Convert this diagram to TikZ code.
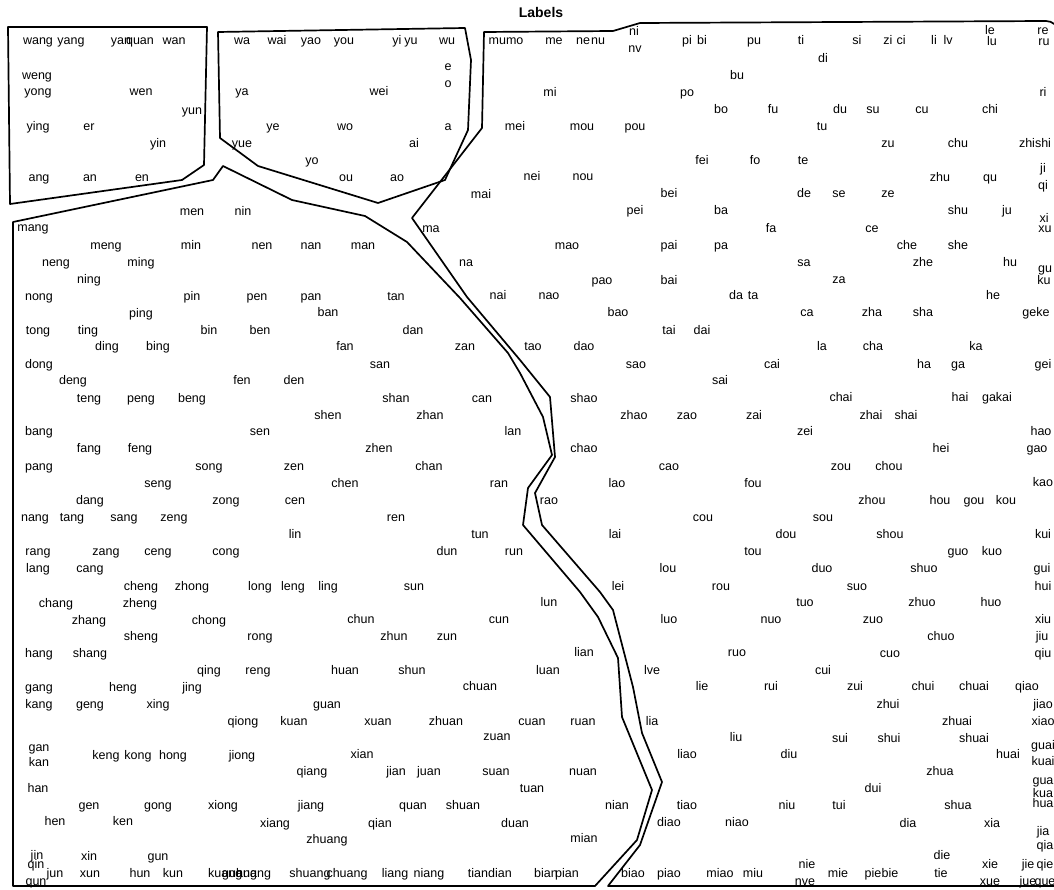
\documentclass[tikz,border=0pt]{standalone}
\usepackage{fontspec}
\setmainfont{Liberation Sans}
\newcounter{lbc}
\newcommand\pl[3]{\stepcounter{lbc}\node[lb] (lb\arabic{lbc}) at (#1,#2) {#3};}
\newcommand\plw[3]{\stepcounter{lbc}\node[lb,anchor=mid west] (lb\arabic{lbc}) at (#1,#2) {#3};}
\begin{document}
\begin{tikzpicture}[x=1pt,y=-1pt,
  lb/.style={font=\fontsize{12.5}{13}\selectfont, inner sep=0pt, anchor=mid, text=black},
  region/.style={draw=black, line width=1.7pt, line join=round}]
\useasboundingbox (0,0) rectangle (1054,890);
\node[font=\bfseries\fontsize{14}{15}\selectfont, inner sep=0pt] (title) at (541,13) {Labels};
% regions
\draw[region] (8,27) -- (207,27) -- (204,165) -- (182,180) -- (10,204) -- cycle;
\draw[region] (218,32) -- (465,28) -- (471,60) -- (468,130) -- (445,180) -- (378,203) -- (258,166) -- (220,138) -- cycle;
\draw[region] (13,222) -- (213,180) -- (223,166) -- (292,200) -- (365,216) -- (407,242) -- (460,298) -- (508,353) -- (520,373) -- (543,417) -- (552,455) -- (528,488) -- (523,525) -- (580,592) -- (598,617) -- (618,658) -- (622,717) -- (652,790) -- (637,840) -- (595,886) -- (13,886) -- cycle;
\draw[region] (484,32) -- (613,31) -- (640,23) -- (1046,21) to[out=0,in=90] (1058,32) -- (1058,886) -- (608,886) -- (640,845) -- (662,782) -- (642,733) -- (633,687) -- (613,610) -- (600,592) -- (542,525) -- (535,493) -- (555,457) -- (550,397) -- (520,360) -- (467,297) -- (412,218) -- (482,128) -- cycle;
% box 1
\pl{38}{42}{wang}\pl{71}{42}{yang}\pl{121}{42}{yan}\pl{140}{42}{quan}\pl{174}{42}{wan}
\pl{37}{77}{weng}\pl{38}{93}{yong}\pl{141}{93}{wen}\pl{192}{112}{yun}
\pl{38}{128}{ying}\pl{89}{128}{er}\pl{158}{145}{yin}
\pl{39}{179}{ang}\pl{90}{179}{an}\pl{142}{179}{en}
% box 2
\pl{242}{42}{wa}\pl{277}{42}{wai}\pl{311}{42}{yao}\pl{344}{42}{you}\pl{397}{42}{yi}\pl{411}{42}{yu}\pl{447}{42}{wu}
\pl{448}{68}{e}\pl{448}{85}{o}\pl{242}{93}{ya}\pl{379}{93}{wei}
\pl{273}{128}{ye}\pl{345}{128}{wo}\pl{448}{128}{a}\pl{414}{145}{ai}\pl{242}{145}{yue}
\pl{312}{162}{yo}\pl{346}{179}{ou}\pl{397}{179}{ao}
% region L
\pl{192}{213}{men}\pl{243}{213}{nin}\pl{33}{229}{mang}
\pl{106}{247}{meng}\pl{191}{247}{min}\pl{262}{247}{nen}\pl{311}{247}{nan}\pl{363}{247}{man}
\pl{56}{264}{neng}\pl{141}{264}{ming}\pl{89}{281}{ning}
\pl{39}{298}{nong}\pl{192}{298}{pin}\pl{257}{298}{pen}\pl{311}{298}{pan}\pl{396}{298}{tan}
\pl{141}{315}{ping}\pl{328}{314}{ban}
\pl{38}{332}{tong}\pl{88}{332}{ting}\pl{209}{332}{bin}\pl{260}{332}{ben}\pl{413}{332}{dan}
\pl{107}{348}{ding}\pl{158}{348}{bing}\pl{345}{348}{fan}\pl{465}{348}{zan}
\pl{39}{366}{dong}\pl{380}{366}{san}
\pl{73}{382}{deng}\pl{242}{382}{fen}\pl{294}{382}{den}
\pl{89}{400}{teng}\pl{141}{400}{peng}\pl{192}{400}{beng}\pl{396}{400}{shan}\pl{482}{400}{can}
\pl{328}{417}{shen}\pl{430}{417}{zhan}
\pl{39}{433}{bang}\pl{260}{433}{sen}\pl{513}{433}{lan}
\pl{89}{450}{fang}\pl{140}{450}{feng}\pl{379}{450}{zhen}
\pl{39}{468}{pang}\pl{209}{468}{song}\pl{294}{468}{zen}\pl{429}{468}{chan}
\pl{158}{485}{seng}\pl{345}{485}{chen}\pl{499}{485}{ran}
\pl{90}{502}{dang}\pl{226}{502}{zong}\pl{295}{502}{cen}
\pl{35}{519}{nang}\pl{72}{519}{tang}\pl{124}{519}{sang}\pl{174}{519}{zeng}\pl{396}{519}{ren}
\pl{295}{536}{lin}\pl{480}{536}{tun}
\pl{38}{553}{rang}\pl{106}{553}{zang}\pl{158}{553}{ceng}\pl{226}{553}{cong}\pl{447}{553}{dun}\pl{514}{553}{run}
\pl{38}{570}{lang}\pl{90}{570}{cang}
\pl{141}{588}{cheng}\pl{192}{588}{zhong}\pl{260}{588}{long}\pl{293}{588}{leng}\pl{328}{588}{ling}\pl{414}{588}{sun}
\pl{56}{605}{chang}\pl{140}{605}{zheng}\pl{549}{604}{lun}
\pl{89}{622}{zhang}\pl{209}{622}{chong}\pl{361}{621}{chun}\pl{499}{621}{cun}
\pl{141}{638}{sheng}\pl{260}{638}{rong}\pl{394}{638}{zhun}\pl{447}{638}{zun}
\pl{39}{655}{hang}\pl{90}{655}{shang}\pl{584}{654}{lian}
\pl{209}{672}{qing}\pl{258}{672}{reng}\pl{345}{672}{huan}\pl{412}{672}{shun}\pl{548}{672}{luan}
\pl{39}{689}{gang}\pl{123}{689}{heng}\pl{192}{689}{jing}\pl{480}{688}{chuan}
\pl{39}{706}{kang}\pl{90}{706}{geng}\pl{158}{706}{xing}\pl{327}{706}{guan}
\pl{243}{723}{qiong}\pl{294}{723}{kuan}\pl{378}{723}{xuan}\pl{446}{723}{zhuan}\pl{532}{723}{cuan}\pl{583}{723}{ruan}
\pl{497}{738}{zuan}
\pl{39}{749}{gan}\pl{39}{764}{kan}\pl{106}{757}{keng}\pl{138}{757}{kong}\pl{173}{757}{hong}\pl{242}{757}{jiong}\pl{362}{756}{xian}
\pl{312}{773}{qiang}\pl{396}{773}{jian}\pl{429}{773}{juan}\pl{496}{773}{suan}\pl{583}{773}{nuan}
\pl{38}{790}{han}\pl{532}{790}{tuan}
\pl{89}{807}{gen}\pl{158}{807}{gong}\pl{223}{807}{xiong}\pl{311}{807}{jiang}\pl{413}{807}{quan}\pl{463}{807}{shuan}\pl{617}{807}{nian}
\pl{55}{823}{hen}\pl{123}{823}{ken}\pl{275}{825}{xiang}\pl{380}{825}{qian}\pl{515}{825}{duan}
\pl{327}{841}{zhuang}\pl{584}{840}{mian}
\pl{37}{857}{jin}\pl{36}{866}{qin}\pl{55}{875}{jun}\pl{36}{883}{qun}
\pl{89}{858}{xin}\pl{158}{858}{gun}\pl{90}{875}{xun}\pl{140}{875}{hun}\pl{173}{875}{kun}
\plw{208}{875}{kuang}\plw{222}{875}{guang}\plw{236}{875}{huang}
\pl{310}{875}{shuang}\pl{347}{875}{chuang}\pl{395}{875}{liang}\pl{429}{875}{niang}
\pl{478}{875}{tian}\pl{500}{875}{dian}\pl{546}{875}{bian}\pl{567}{875}{pian}
% region R
\pl{506}{42}{mumo}\pl{554}{42}{me}\pl{583}{42}{ne}\pl{598}{42}{nu}\pl{634}{33}{ni}\pl{635}{50}{nv}
\pl{687}{42}{pi}\pl{702}{42}{bi}\pl{754}{42}{pu}\pl{801}{42}{ti}\pl{823}{60}{di}\pl{857}{42}{si}
\pl{888}{42}{zi}\pl{901}{42}{ci}\pl{934}{42}{li}\pl{948}{42}{lv}\pl{990}{32}{le}\pl{992}{43}{lu}
\pl{1043}{32}{re}\pl{1044}{43}{ru}
\pl{737}{77}{bu}\pl{550}{94}{mi}\pl{687}{94}{po}\pl{1043}{94}{ri}
\pl{721}{111}{bo}\pl{773}{111}{fu}\pl{840}{111}{du}\pl{873}{111}{su}\pl{922}{111}{cu}\pl{990}{111}{chi}
\pl{515}{128}{mei}\pl{582}{128}{mou}\pl{635}{128}{pou}\pl{822}{128}{tu}
\pl{888}{145}{zu}\pl{958}{145}{chu}\pl{1035}{145}{zhishi}
\pl{702}{162}{fei}\pl{755}{162}{fo}\pl{803}{162}{te}\pl{1043}{170}{ji}
\pl{532}{178}{nei}\pl{583}{178}{nou}\pl{940}{179}{zhu}\pl{990}{179}{qu}\pl{1043}{187}{qi}
\pl{481}{196}{mai}\pl{669}{195}{bei}\pl{804}{195}{de}\pl{839}{195}{se}\pl{888}{195}{ze}
\pl{635}{212}{pei}\pl{721}{212}{ba}\pl{958}{212}{shu}\pl{1007}{212}{ju}\pl{1044}{220}{xi}
\pl{431}{230}{ma}\pl{771}{230}{fa}\pl{872}{230}{ce}\pl{1045}{230}{xu}
\pl{567}{247}{mao}\pl{669}{247}{pai}\pl{721}{247}{pa}\pl{907}{247}{che}\pl{958}{247}{she}
\pl{466}{264}{na}\pl{804}{264}{sa}\pl{923}{264}{zhe}\pl{1010}{264}{hu}\pl{1045}{270}{gu}
\pl{602}{282}{pao}\pl{669}{282}{bai}\pl{839}{281}{za}\pl{1044}{282}{ku}
\pl{498}{297}{nai}\pl{549}{297}{nao}\pl{736}{297}{da}\pl{753}{297}{ta}\pl{993}{297}{he}
\pl{618}{314}{bao}\pl{807}{314}{ca}\pl{872}{314}{zha}\pl{923}{314}{sha}\pl{1036}{314}{geke}
\pl{669}{332}{tai}\pl{702}{332}{dai}
\pl{533}{348}{tao}\pl{584}{348}{dao}\pl{822}{348}{la}\pl{873}{348}{cha}\pl{976}{348}{ka}
\pl{636}{366}{sao}\pl{772}{366}{cai}\pl{924}{366}{ha}\pl{958}{366}{ga}\pl{1043}{366}{gei}
\pl{720}{382}{sai}
\pl{584}{400}{shao}\pl{841}{399}{chai}\pl{960}{399}{hai}\pl{997}{399}{gakai}
\pl{634}{417}{zhao}\pl{687}{417}{zao}\pl{754}{417}{zai}\pl{871}{417}{zhai}\pl{906}{417}{shai}
\pl{805}{433}{zei}\pl{1041}{433}{hao}
\pl{584}{450}{chao}\pl{941}{450}{hei}\pl{1037}{450}{gao}
\pl{669}{468}{cao}\pl{841}{468}{zou}\pl{889}{468}{chou}
\pl{617}{485}{lao}\pl{753}{485}{fou}\pl{1043}{484}{kao}
\pl{549}{502}{rao}\pl{872}{502}{zhou}\pl{940}{502}{hou}\pl{974}{502}{gou}\pl{1006}{502}{kou}
\pl{703}{519}{cou}\pl{823}{519}{sou}
\pl{615}{536}{lai}\pl{786}{536}{dou}\pl{890}{536}{shou}\pl{1043}{536}{kui}
\pl{753}{553}{tou}\pl{958}{553}{guo}\pl{992}{553}{kuo}
\pl{668}{570}{lou}\pl{822}{570}{duo}\pl{924}{570}{shuo}\pl{1042}{570}{gui}
\pl{618}{588}{lei}\pl{721}{588}{rou}\pl{857}{588}{suo}\pl{1043}{588}{hui}
\pl{805}{604}{tuo}\pl{922}{604}{zhuo}\pl{991}{604}{huo}
\pl{669}{621}{luo}\pl{771}{621}{nuo}\pl{873}{621}{zuo}\pl{1043}{621}{xiu}
\pl{941}{638}{chuo}\pl{1042}{638}{jiu}
\pl{737}{654}{ruo}\pl{890}{655}{cuo}\pl{1043}{655}{qiu}
\pl{652}{672}{lve}\pl{823}{672}{cui}
\pl{702}{688}{lie}\pl{771}{688}{rui}\pl{855}{688}{zui}\pl{923}{688}{chui}\pl{974}{688}{chuai}\pl{1027}{688}{qiao}
\pl{888}{706}{zhui}\pl{1043}{706}{jiao}
\pl{652}{723}{lia}\pl{957}{723}{zhuai}\pl{1043}{723}{xiao}
\pl{736}{739}{liu}\pl{840}{740}{sui}\pl{889}{740}{shui}\pl{974}{740}{shuai}\pl{1043}{747}{guai}
\pl{687}{756}{liao}\pl{789}{756}{diu}\pl{1008}{756}{huai}\pl{1043}{763}{kuai}
\pl{940}{773}{zhua}\pl{1043}{782}{gua}
\pl{873}{790}{dui}\pl{1043}{795}{kua}
\pl{687}{807}{tiao}\pl{787}{807}{niu}\pl{839}{807}{tui}\pl{958}{807}{shua}\pl{1043}{805}{hua}
\pl{669}{824}{diao}\pl{737}{824}{niao}\pl{908}{825}{dia}\pl{992}{825}{xia}
\pl{1043}{833}{jia}\pl{1045}{847}{qia}
\pl{942}{857}{die}\pl{807}{866}{nie}\pl{805}{883}{nve}\pl{990}{866}{xie}\pl{990}{883}{xue}
\pl{1028}{866}{jie}\pl{1045}{866}{qie}\pl{1028}{883}{jue}\pl{1045}{883}{que}
\pl{633}{875}{biao}\pl{669}{875}{piao}\pl{720}{875}{miao}\pl{753}{875}{miu}
\pl{838}{875}{mie}\pl{873}{875}{pie}\pl{890}{875}{bie}\pl{941}{875}{tie}
\end{tikzpicture}
\end{document}
